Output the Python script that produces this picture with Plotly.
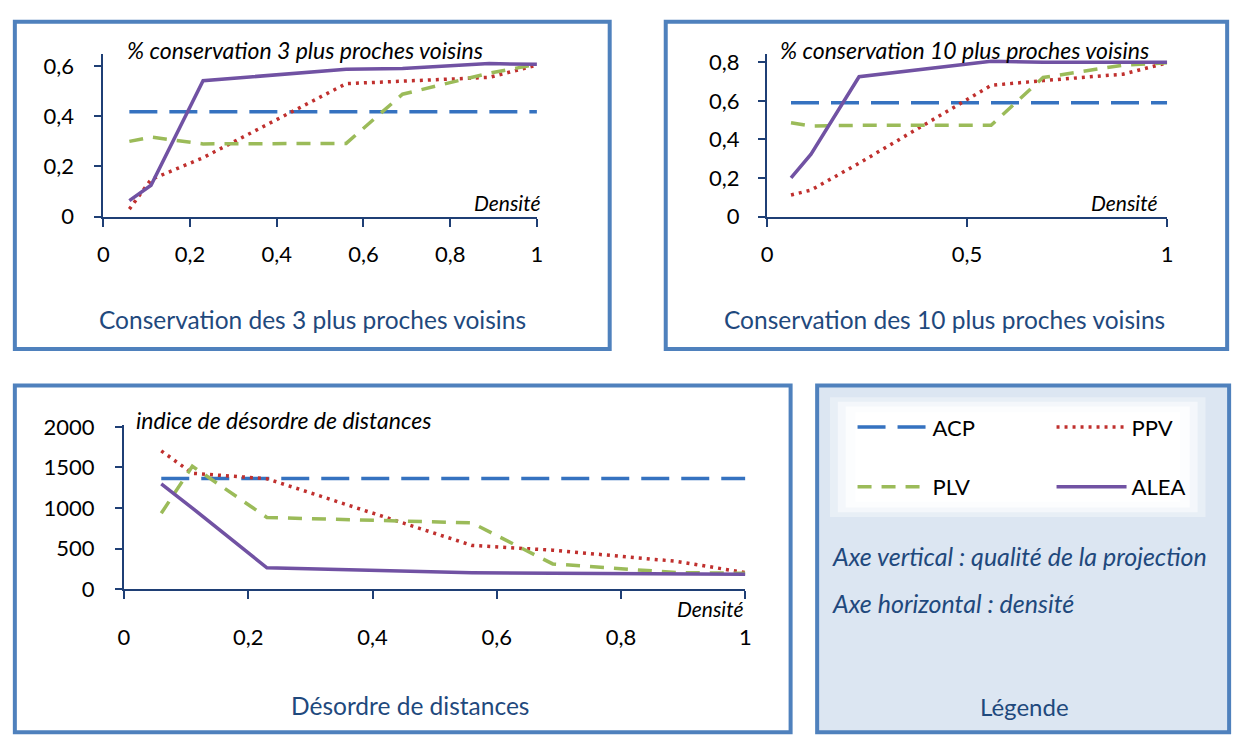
import plotly.graph_objects as go

# ---------------- data ----------------
density = [0.06, 0.11, 0.23, 0.56, 0.69, 0.89, 1.0]

acp_3 = [0.418, 0.418, 0.418, 0.418, 0.418, 0.418, 0.418]
ppv_3 = [0.03, 0.148, 0.235, 0.53, 0.54, 0.555, 0.604]
plv_3 = [0.30, 0.317, 0.29, 0.292, 0.488, 0.572, 0.607]
alea_3 = [0.064, 0.125, 0.542, 0.587, 0.59, 0.61, 0.607]

acp_10 = [0.59, 0.59, 0.59, 0.59, 0.59, 0.59, 0.59]
ppv_10 = [0.112, 0.138, 0.277, 0.68, 0.705, 0.738, 0.797]
plv_10 = [0.487, 0.47, 0.473, 0.473, 0.721, 0.785, 0.797]
alea_10 = [0.201, 0.324, 0.725, 0.805, 0.80, 0.80, 0.80]

acp_d = [1365, 1365, 1365, 1365, 1365, 1365, 1365]
ppv_d = [1704, 1428, 1361, 540, 481, 343, 205]
plv_d = [935, 1515, 884, 817, 312, 205, 197]
alea_d = [1298, 1000, 264, 205, 197, 190, 185]

series_names = ["ACP", "PPV", "PLV", "ALEA"]
panel_titles = ["% conservation 3 plus proches voisins",
                "% conservation 10 plus proches voisins",
                "indice de désordre de distances"]
panel_captions = ["Conservation des 3 plus proches voisins",
                  "Conservation des 10 plus proches voisins",
                  "Désordre de distances"]
x_label = "Densité"
legend_notes = ["Axe vertical : qualité de la projection",
                "Axe horizontal : densité"]
legend_caption = "Légende"

# ---------------- style ----------------
W, H = 1251, 749
FONT = "Lato"
NAVY = "#1F3F75"
CAPTION = "#1F497D"
BORDER = "#4F81BD"
styles = {
    "ACP": dict(color="#3572C0", dash="28px,12px"),
    "PPV": dict(color="#C0302E", dash="3px,5px"),
    "PLV": dict(color="#9BBB59", dash="14px,10px"),
    "ALEA": dict(color="#7152A3", dash="solid"),
}
legend_of = {"ACP": "legend", "PPV": "legend", "PLV": "legend2", "ALEA": "legend2"}


def fx(p):
    return p / W


def fy(p):
    return 1 - p / H


fig = go.Figure()

panels = [
    ("x", "y", [acp_3, ppv_3, plv_3, alea_3]),
    ("x2", "y2", [acp_10, ppv_10, plv_10, alea_10]),
    ("x3", "y3", [acp_d, ppv_d, plv_d, alea_d]),
]
for pi, (xa, ya, vals) in enumerate(panels):
    for name, v in zip(series_names, vals):
        st = styles[name]
        fig.add_trace(go.Scatter(
            x=density, y=v, mode="lines", name=name,
            xaxis=xa, yaxis=ya,
            line=dict(color=st["color"], width=3.5, dash=st["dash"]),
            legendgroup=name, showlegend=(pi == 0), legend=legend_of[name],
            hoverinfo="skip",
        ))

axis_common = dict(showgrid=False, zeroline=False, showline=True,
                   linecolor=NAVY, linewidth=2, ticks="outside",
                   tickcolor=NAVY, tickwidth=2,
                   tickfont=dict(family=FONT, size=22, color="black"))

legend_common = dict(orientation="h", x=fx(861), xanchor="left", yanchor="middle",
                     entrywidth=114, entrywidthmode="pixels", itemwidth=70,
                     bgcolor="rgba(0,0,0,0)",
                     font=dict(family=FONT, size=22, color="black"))

fig.update_layout(
    width=W, height=H, margin=dict(l=0, r=0, t=0, b=0),
    paper_bgcolor="white", plot_bgcolor="rgba(0,0,0,0)",
    separators=", ",
    font=dict(family=FONT),
    xaxis=dict(domain=[fx(99), fx(540)], range=[0, 1], dtick=0.2, anchor="y",
               ticklen=8, ticklabelstandoff=9, **axis_common),
    yaxis=dict(domain=[fy(211), fy(42)], range=[0, 0.65], tickvals=[0, 0.2, 0.4, 0.6],
               anchor="x", ticklen=7, ticklabelstandoff=16, **axis_common),
    xaxis2=dict(domain=[fx(774), fx(1181)], range=[0, 1], dtick=0.5, anchor="y2",
                ticklen=8, ticklabelstandoff=9, **axis_common),
    yaxis2=dict(domain=[fy(211), fy(42)], range=[0, 0.845], tickvals=[0, 0.2, 0.4, 0.6, 0.8],
                anchor="x2", ticklen=7, ticklabelstandoff=14, **axis_common),
    xaxis3=dict(domain=[fx(120), fx(752)], range=[0, 1], dtick=0.2, anchor="y3",
                ticklen=8, ticklabelstandoff=19, **axis_common),
    yaxis3=dict(domain=[fy(597), fy(427)], range=[0, 2020], tickvals=[0, 500, 1000, 1500, 2000],
                anchor="x3", ticklen=7, ticklabelstandoff=16, **axis_common),
    legend=dict(y=fy(429), **legend_common),
    legend2=dict(y=fy(491), **legend_common),
)

shapes = []
# legend box background + soft white glow behind the legend entries
shapes.append(dict(type="rect", xref="paper", yref="paper", layer="below",
                   x0=fx(825), x1=fx(1244), y0=fy(745), y1=fy(386),
                   fillcolor="#DCE6F2", line=dict(width=0)))
for inset, op in [(0, 0.35), (8, 0.5), (16, 0.7), (26, 1.0)]:
    shapes.append(dict(type="rect", xref="paper", yref="paper", layer="below",
                       x0=fx(838 + inset), x1=fx(1220 - inset),
                       y0=fy(522 - inset * 0.6), y1=fy(398 + inset * 0.6),
                       fillcolor="rgba(255,255,255,%.2f)" % op, line=dict(width=0)))
# panel borders
for (x0, y0, x1, y1) in [(9, 9, 614, 348), (671, 9, 1242, 348),
                         (9, 386, 798, 745), (825, 386, 1244, 745)]:
    shapes.append(dict(type="rect", xref="paper", yref="paper",
                       x0=fx(x0), x1=fx(x1), y0=fy(y1), y1=fy(y0),
                       line=dict(color=BORDER, width=4), fillcolor="rgba(0,0,0,0)"))
fig.update_layout(shapes=shapes)

ann = []


def add_text(text, x, y, size, color="black", italic=False, xanchor="left"):
    ann.append(dict(text=("<i>%s</i>" % text) if italic else text,
                    x=fx(x), y=fy(y), xref="paper", yref="paper",
                    xanchor=xanchor, yanchor="middle", showarrow=False,
                    font=dict(family=FONT, size=size, color=color)))


add_text(panel_titles[0], 121, 38, 23, italic=True)
add_text(panel_titles[1], 785, 38, 23, italic=True)
add_text(panel_titles[2], 130, 422, 23, italic=True)
add_text(x_label, 545, 196, 21, italic=True, xanchor="right")
add_text(x_label, 1173, 196, 21, italic=True, xanchor="right")
add_text(x_label, 752, 617, 21, italic=True, xanchor="right")
add_text(panel_captions[0], 312, 318, 24.5, color=CAPTION, xanchor="center")
add_text(panel_captions[1], 955, 318, 24.5, color=CAPTION, xanchor="center")
add_text(panel_captions[2], 411, 717, 24.5, color=CAPTION, xanchor="center")
add_text(legend_notes[0], 838, 563, 25, color=CAPTION, italic=True)
add_text(legend_notes[1], 838, 611, 25, color=CAPTION, italic=True)
add_text(legend_caption, 1036, 718, 24, color=CAPTION, xanchor="center")
fig.update_layout(annotations=ann)

fig.write_html(
    "out.html",
    config={"displayModeBar": False},
    post_script=("document.documentElement.style.margin='0px';"
                 "document.body.style.margin='0px';"
                 "document.body.style.overflow='hidden';"
                 "document.documentElement.style.overflow='hidden';"),
)
